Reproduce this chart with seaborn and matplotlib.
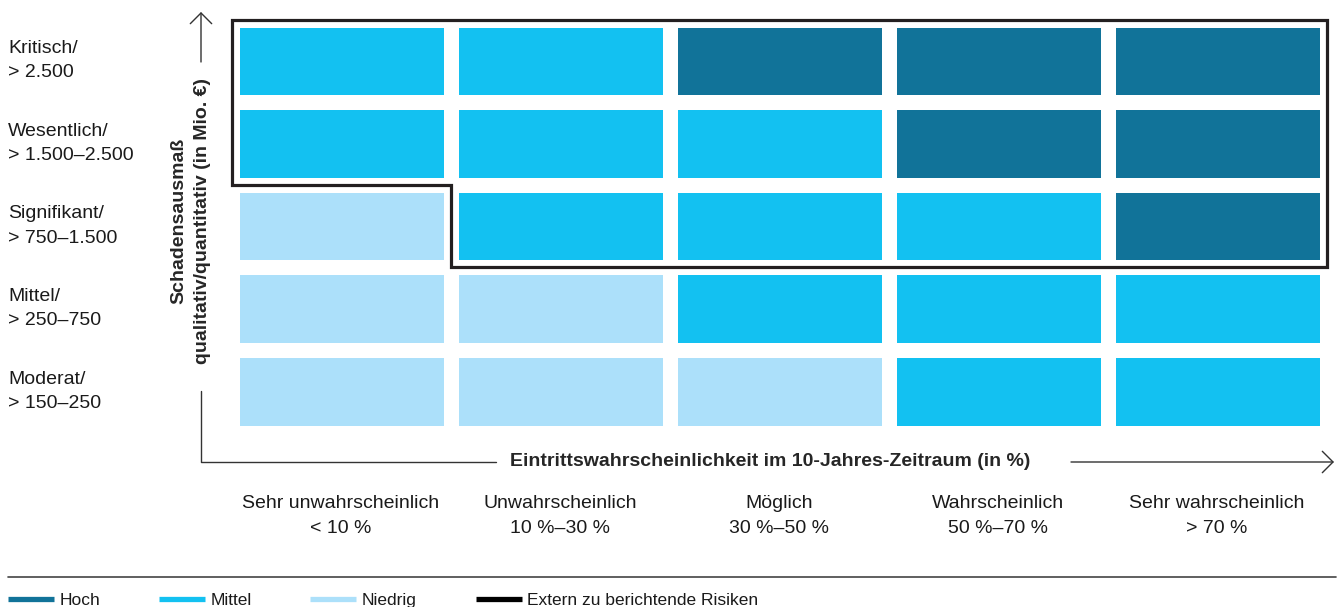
import matplotlib
matplotlib.use("Agg")
from collections import defaultdict

import matplotlib.patches as mpatches
import matplotlib.pyplot as plt
import numpy as np
import pandas as pd
import seaborn as sns
from matplotlib.colors import ListedColormap
from matplotlib.lines import Line2D

# ---------------------------------------------------------------------------
# Data
# ---------------------------------------------------------------------------
SEVERITY = [
    "Kritisch/\n> 2.500",
    "Wesentlich/\n> 1.500–2.500",
    "Signifikant/\n> 750–1.500",
    "Mittel/\n> 250–750",
    "Moderat/\n> 150–250",
]

LIKELIHOOD = [
    "Sehr unwahrscheinlich\n< 10 %",
    "Unwahrscheinlich\n10 %–30 %",
    "Möglich\n30 %–50 %",
    "Wahrscheinlich\n50 %–70 %",
    "Sehr wahrscheinlich\n> 70 %",
]

# risk class per cell (rows = severity top→bottom, cols = likelihood)
RISK = [
    ["Mittel",  "Mittel",  "Hoch",    "Hoch",   "Hoch"],
    ["Mittel",  "Mittel",  "Mittel",  "Hoch",   "Hoch"],
    ["Niedrig", "Mittel",  "Mittel",  "Mittel", "Hoch"],
    ["Niedrig", "Niedrig", "Mittel",  "Mittel", "Mittel"],
    ["Niedrig", "Niedrig", "Niedrig", "Mittel", "Mittel"],
]

# 1 = externally reported risk (outlined area)
EXTERN = [
    [1, 1, 1, 1, 1],
    [1, 1, 1, 1, 1],
    [0, 1, 1, 1, 1],
    [0, 0, 0, 0, 0],
    [0, 0, 0, 0, 0],
]

LEVELS = ["Niedrig", "Mittel", "Hoch"]
LEVEL_COLORS = {"Niedrig": "#ACE0FA", "Mittel": "#13C1F1", "Hoch": "#117399"}
LEGEND_ORDER = ["Hoch", "Mittel", "Niedrig"]
EXTERN_LABEL = "Extern zu berichtende Risiken"
OUTLINE_COLOR = "#231F20"
TEXT_COLOR = "#1A1A1A"

X_LABEL = "Eintrittswahrscheinlichkeit im 10-Jahres-Zeitraum (in %)"
Y_LABEL = "Schadensausmaß\nqualitativ/quantitativ (in Mio. €)"

W, H = 1344, 607


def fx(px):
    return px / W


def fy(py):
    return 1 - py / H


def mask_outline(mask):
    """Trace the outer boundary of a boolean cell mask into one closed polygon."""
    nr, nc = mask.shape
    adj = defaultdict(list)

    def add(a, b):
        adj[a].append(b)
        adj[b].append(a)

    for r in range(nr):
        for c in range(nc):
            if not mask[r, c]:
                continue
            if r == 0 or not mask[r - 1, c]:
                add((c, r), (c + 1, r))
            if r == nr - 1 or not mask[r + 1, c]:
                add((c, r + 1), (c + 1, r + 1))
            if c == 0 or not mask[r, c - 1]:
                add((c, r), (c, r + 1))
            if c == nc - 1 or not mask[r, c + 1]:
                add((c + 1, r), (c + 1, r + 1))

    start = min(adj)
    path, prev, cur = [start], None, start
    while True:
        nxt = [p for p in adj[cur] if p != prev][0]
        if nxt == start:
            break
        path.append(nxt)
        prev, cur = cur, nxt
    return path


# ---------------------------------------------------------------------------
# Style
# ---------------------------------------------------------------------------
sns.set_style("white")
plt.rcParams["font.family"] = ["Liberation Sans", "DejaVu Sans"]
plt.rcParams["text.color"] = TEXT_COLOR

codes = pd.DataFrame(
    [[LEVELS.index(v) for v in row] for row in RISK],
    index=SEVERITY, columns=LIKELIHOOD,
)

fig = plt.figure(figsize=(W / 100, H / 100), dpi=100)
ax = fig.add_axes([fx(231.5), fy(432.5), fx(1326.5) - fx(231.5), fy(19.5) - fy(432.5)])

sns.heatmap(
    codes,
    cmap=ListedColormap([LEVEL_COLORS[l] for l in LEVELS]),
    vmin=-0.5, vmax=2.5,
    cbar=False,
    linewidths=10.5, linecolor="white",
    xticklabels=True, yticklabels=True,
    ax=ax,
)

# tick labels
ax.tick_params(axis="x", length=0, pad=45, labelsize=14, labelcolor=TEXT_COLOR)
ax.tick_params(axis="y", length=0, pad=161, labelsize=14, labelcolor=TEXT_COLOR)
for t in ax.get_xticklabels():
    t.set_rotation(0)
    t.set_ha("center")
    t.set_linespacing(1.58)
for t in ax.get_yticklabels():
    t.set_rotation(0)
    t.set_ha("left")
    t.set_va("center")
    t.set_linespacing(1.55)

# axis labels
ax.set_xlabel(X_LABEL, fontsize=14, fontweight="bold", va="center")
ax.xaxis.set_label_coords((770 - 231.5) / 1095, (432.5 - 462) / 413)
ax.set_ylabel(Y_LABEL, fontsize=14, fontweight="bold", va="center", ha="center",
              linespacing=1.5)
ax.yaxis.set_label_coords((190.5 - 231.5) / 1095, (432.5 - 221) / 413)

# outline of externally reported cells, derived from the mask
outline = mpatches.Polygon(
    mask_outline(np.array(EXTERN, dtype=bool)), closed=True, fill=False,
    edgecolor=OUTLINE_COLOR, linewidth=2.3, joinstyle="miter", zorder=5,
)
outline.set_clip_on(False)
ax.add_patch(outline)

# axis arrows (drawn in figure space)
arrow_kw = dict(arrowstyle="->,head_length=0.55,head_width=0.55",
                lw=1.0, color="#333333", shrinkA=0, shrinkB=0, mutation_scale=14)
ax.annotate("", xy=(fx(201), fy(12)), xycoords="figure fraction",
            xytext=(fx(201), fy(62)), textcoords="figure fraction",
            arrowprops=arrow_kw, annotation_clip=False)
ax.annotate("", xy=(fx(1334), fy(462)), xycoords="figure fraction",
            xytext=(fx(1071), fy(462)), textcoords="figure fraction",
            arrowprops=arrow_kw, annotation_clip=False)
fig.add_artist(Line2D([fx(201), fx(201), fx(496)], [fy(391), fy(462), fy(462)],
                      transform=fig.transFigure, color="#333333", lw=1.0))

# separator rule above legend
fig.add_artist(Line2D([fx(8), fx(1336)], [fy(577), fy(577)],
                      transform=fig.transFigure, color="#444444", lw=1.2))

# legend
handles = [Line2D([], [], color=LEVEL_COLORS[l], lw=3.8, solid_capstyle="butt", label=l)
           for l in LEGEND_ORDER]
handles.append(Line2D([], [], color="black", lw=3.8, solid_capstyle="butt",
                      label=EXTERN_LABEL))
fig.legend(
    handles=handles, loc="center left", bbox_to_anchor=(fx(8), fy(600)),
    ncol=4, frameon=False, fontsize=12.5,
    handlelength=2.65, handletextpad=0.3, columnspacing=3.4,
    borderpad=0, borderaxespad=0,
)

fig.savefig("out.png", dpi=100)
plt.close(fig)
